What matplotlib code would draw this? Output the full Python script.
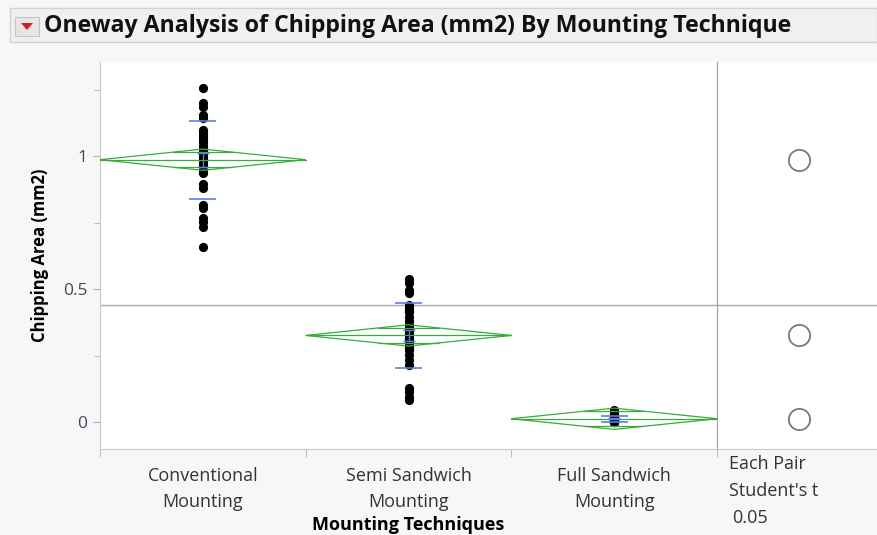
import numpy as np
import matplotlib.pyplot as plt
from matplotlib.patches import Rectangle, Polygon

plt.rcParams['font.family'] = ['Open Sans', 'DejaVu Sans']

# chart data
categories = ["Conventional\nMounting", "Semi Sandwich\nMounting", "Full Sandwich\nMounting"]
conventional = [1.256, 1.199, 1.184, 1.154, 1.143, 1.090, 1.079, 1.068, 1.053, 1.034,
                1.015, 0.996, 0.977, 0.966, 0.936, 0.898, 0.883, 0.816, 0.805, 0.767,
                0.752, 0.733, 0.658, 1.010, 1.040, 0.990, 1.100, 0.950, 1.060, 1.020]
semi = [0.541, 0.523, 0.496, 0.485, 0.440, 0.429, 0.414, 0.395, 0.383, 0.365,
        0.346, 0.327, 0.308, 0.289, 0.271, 0.252, 0.233, 0.214, 0.128, 0.113,
        0.094, 0.083, 0.335, 0.320, 0.350, 0.315, 0.300, 0.360, 0.280, 0.420]
full = [0.045, 0.038, 0.030, 0.025, 0.020, 0.016, 0.013, 0.010, 0.008, 0.006,
        0.004, 0.002, 0.000, 0.000, 0.000, 0.005, 0.010, 0.015, 0.003, 0.007,
        0.012, 0.018, 0.022, 0.009, 0.014, 0.011, 0.006, 0.017, 0.020, 0.028]
groups = [conventional, semi, full]
yticks = [0, 0.5, 1]
ytick_labels = ["0", "0.5", "1"]
test_lines = ["Each Pair", "Student's t", "0.05"]

W, H = 877, 535
green = '#3aaa3a'
blue = '#5b7fe0'

fig = plt.figure(figsize=(W / 100, H / 100), dpi=100, facecolor='#f7f7f7')


def fx(px):
    return px / W


def fy(py):
    return 1 - py / H


ax = fig.add_axes([fx(100), fy(449), fx(717) - fx(100), fy(62) - fy(449)])
ax2 = fig.add_axes([fx(717), fy(449), fx(877) - fx(717), fy(62) - fy(449)])
ylim = (-0.1, 1.355)
for a in (ax, ax2):
    a.set_facecolor('white')
    a.set_ylim(*ylim)

# statistics as JMP computes them
ns = np.array([len(g) for g in groups])
means = np.array([np.mean(g) for g in groups])
sds = np.array([np.std(g, ddof=1) for g in groups])
pooled = np.sqrt(np.sum((ns - 1) * sds ** 2) / (ns.sum() - len(groups)))
t = 1.99
ci = t * pooled / np.sqrt(ns)
grand = np.mean(np.concatenate(groups))

ax.set_xlim(0, 3)
for i, g in enumerate(groups):
    c = i + 0.5
    m = means[i]
    ax.plot(np.full(len(g), c), g, 'o', color='black', ms=5.6, zorder=2)
    ax.add_patch(Polygon([(i, m), (c, m + ci[i]), (i + 1, m), (c, m - ci[i])],
                         closed=True, fill=False, edgecolor=green, lw=0.9, zorder=3))
    ax.plot([i, i + 1], [m, m], color=green, lw=0.9, zorder=3)
    ov = ci[i] / np.sqrt(2)
    hw = 0.5 * (1 - 1 / np.sqrt(2))
    ax.hlines([m + ov, m - ov], c - hw, c + hw, color=green, lw=0.9, zorder=3)
    ax.hlines([m + sds[i], m - sds[i]], c - 0.065, c + 0.065, color=blue, lw=1.2, zorder=4)
    ax.errorbar(c, m, yerr=sds[i] / np.sqrt(ns[i]), color=blue, lw=1, capsize=4,
                capthick=1, zorder=4)

ax.axhline(grand, color='#a9a9a9', lw=1, zorder=1)
ax2.axhline(grand, color='#a9a9a9', lw=1, zorder=1)

# comparison circles
ax2.set_xlim(0, 1)
fig.canvas.draw()
px_per_unit = ax2.get_window_extent().height / (ylim[1] - ylim[0])
for i in range(len(groups)):
    d = 2 * ci[i] * px_per_unit * 72 / fig.dpi
    ax2.plot(0.515, means[i], 'o', ms=d, mfc='none', mec='#7a7a7a', mew=1.3)

# axes styling
ax.set_yticks(yticks)
ax.set_yticklabels(ytick_labels)
ax.set_yticks([0.25, 0.75, 1.25], minor=True)
ax.tick_params(axis='y', which='major', length=5, color='#b0b0b0', labelsize=12.5,
               labelcolor='#3f4b5e', pad=4)
ax.tick_params(axis='y', which='minor', length=4, color='#b0b0b0')
ax.set_xticks([0.5, 1.5, 2.5])
ax.set_xticklabels(categories, linespacing=1.55)
ax.set_xticks([0, 1, 2, 3], minor=True)
ax.tick_params(axis='x', which='major', length=0, labelsize=13, labelcolor='#333333', pad=13)
ax.tick_params(axis='x', which='minor', length=6, color='#b0b0b0')
ax.spines['top'].set_visible(False)
ax.spines['right'].set_visible(False)
ax.spines['left'].set_color('#c8c8c8')
ax.spines['bottom'].set_color('#c8c8c8')
for s in ('top', 'right'):
    ax2.spines[s].set_visible(False)
ax2.spines['left'].set_color('#a0a0a0')
ax2.spines['bottom'].set_color('#c8c8c8')
ax2.set_xticks([])
ax2.set_yticks([])

ax.set_xlabel("Mounting Techniques", fontsize=13, fontweight='bold', labelpad=4)
ax.set_ylabel("Chipping Area (mm2)", fontsize=12, fontweight='bold', labelpad=10)

for k, line in enumerate(test_lines):
    fig.text(fx(729 if k < 2 else 732), fy(464 + k * 27), line, fontsize=13,
             color='#333333', va='center', ha='left')

# title bar
fig.patches.append(Rectangle((fx(10), fy(42)), fx(877) - fx(10), fy(8) - fy(42),
                             transform=fig.transFigure, facecolor='#f0f0f0',
                             edgecolor='#d2d2d2', lw=1))
fig.patches.append(Rectangle((fx(15), fy(36)), fx(24), fy(17) - fy(36),
                             transform=fig.transFigure, facecolor='#e6e6e6',
                             edgecolor='#c4c4c4', lw=0.8))
fig.patches.append(Polygon([(fx(21), fy(23)), (fx(33), fy(23)), (fx(27), fy(30))],
                           closed=True, transform=fig.transFigure,
                           facecolor='#d42020', edgecolor='none'))
fig.text(fx(44), fy(26), "Oneway Analysis of Chipping Area (mm2) By Mounting Technique",
         fontsize=16.7, fontweight='bold', color='#111111', va='center', ha='left')

fig.savefig('out.png', dpi=100, facecolor=fig.get_facecolor())
